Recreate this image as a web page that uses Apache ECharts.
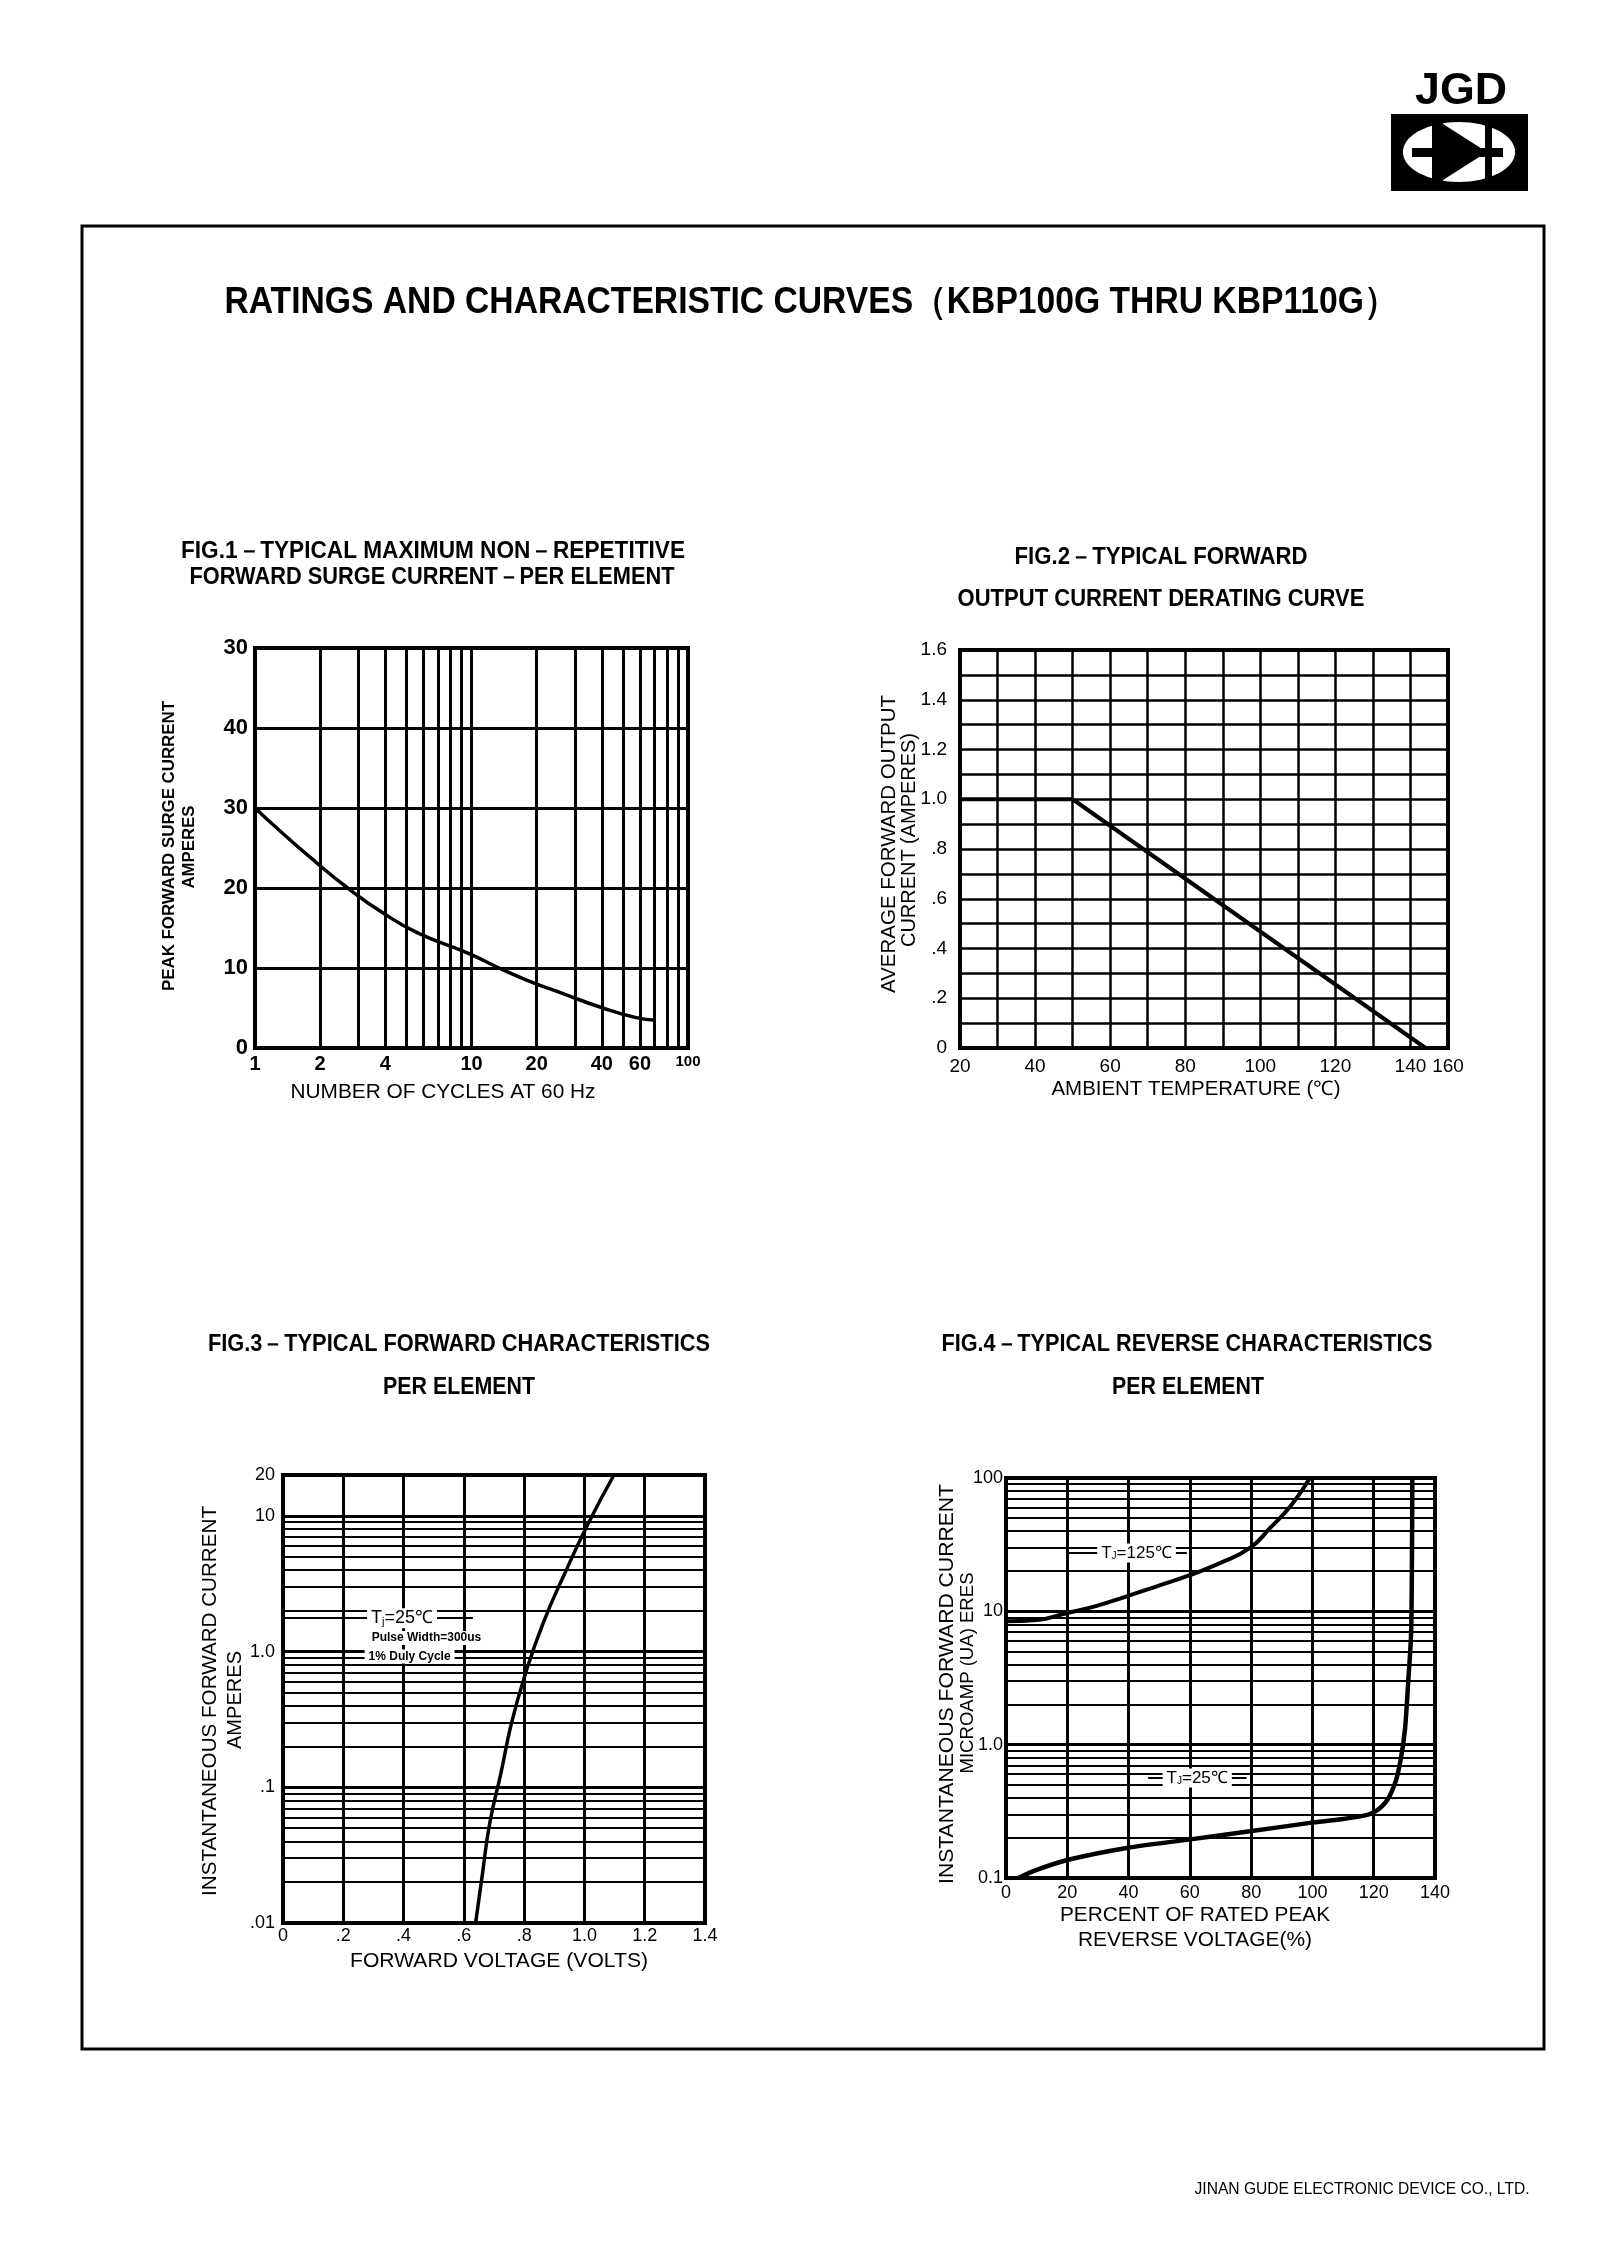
<!DOCTYPE html>
<html>
<head>
<meta charset="utf-8">
<title>KBP100G - KBP110G curves</title>
<script src="https://cdn.jsdelivr.net/npm/echarts@6.0.0/dist/echarts.min.js"></script>
<style>
  html, body { margin: 0; padding: 0; background: #fff; }
  #page { width: 1622px; height: 2260px; }
</style>
</head>
<body>
<div id="page"></div>
<script>
// ---- FIG.1 surge current vs number of cycles ----
const fig1Cycles = [1, 1.26, 1.84, 2.68, 3.89, 5.67, 9.74, 13.4, 18.2, 27.0, 39.5, 57.6, 70.9];
const fig1Amps = [30, 27.5, 23.6, 20.0, 16.9, 14.35, 11.8, 10.0, 8.43, 6.71, 5.09, 3.8, 3.47];
const fig1XTicks = [1, 2, 4, 10, 20, 40, 60, 100];
const fig1XLabels = ['1', '2', '4', '10', '20', '40', '60', '100'];
const fig1XGrid = [2, 3, 4, 5, 6, 7, 8, 9, 10, 20, 30, 40, 50, 60, 70, 80, 90];
const fig1YTicks = [0, 10, 20, 30, 40, 50];
const fig1YLabels = ['0', '10', '20', '30', '40', '30'];

// ---- FIG.2 derating curve ----
const fig2Temp = [20, 50, 144];
const fig2Amps = [1.0, 1.0, 0];
const fig2XTicks = [20, 40, 60, 80, 100, 120, 140, 150];
const fig2XLabels = ['20', '40', '60', '80', '100', '120', '140', '160'];
const fig2YTicks = [0, 0.2, 0.4, 0.6, 0.8, 1.0, 1.2, 1.4, 1.6];
const fig2YLabels = ['0', '.2', '.4', '.6', '.8', '1.0', '1.2', '1.4', '1.6'];

// ---- FIG.3 forward characteristics ----
const fig3Volts = [0.639, 0.662, 0.686, 0.723, 0.758, 0.805, 0.863, 0.935, 1.013, 1.098];
const fig3Amps = [0.01, 0.0234, 0.0546, 0.127, 0.297, 0.694, 1.62, 3.78, 8.81, 20];
const fig3XTicks = [0, 0.2, 0.4, 0.6, 0.8, 1.0, 1.2, 1.4];
const fig3XLabels = ['0', '.2', '.4', '.6', '.8', '1.0', '1.2', '1.4'];
const fig3YTicks = [0.01, 0.1, 1, 10, 20];
const fig3YLabels = ['.01', '.1', '1.0', '10', '20'];
const fig3YGrid = [0.02, 0.03, 0.04, 0.05, 0.06, 0.07, 0.08, 0.09, 0.1, 0.2, 0.3, 0.4, 0.5, 0.6, 0.7, 0.8, 0.9,
  1, 2, 3, 4, 5, 6, 7, 8, 9, 10];
const fig3YMajor = [0.1, 1, 10];

// ---- FIG.4 reverse characteristics ----
const fig4Pct125 = [0, 10, 20, 29.6, 39.4, 49.2, 59.5, 69.8, 79.6, 86.2, 93.2, 99.2];
const fig4Ua125 = [8.41, 8.6, 9.72, 11.0, 12.96, 15.4, 18.5, 23.0, 29.9, 42.2, 63.1, 100];
const fig4Pct25 = [4, 10, 20.3, 39.4, 59.5, 79.6, 99.2, 118.2, 123.7, 127, 128.8, 130.2, 131.3, 132.2, 132.5, 132.6];
const fig4Ua25 = [0.1, 0.115, 0.137, 0.168, 0.194, 0.224, 0.259, 0.299, 0.365, 0.516, 0.772, 1.30, 3.07, 6.88, 30, 100];
const fig4YTicks = [0.1, 1, 10, 100];
const fig4YLabels = ['0.1', '1.0', '10', '100'];
const fig4YGrid = [0.2, 0.3, 0.4, 0.5, 0.6, 0.7, 0.8, 0.9, 1, 2, 3, 4, 5, 6, 7, 8, 9,
  10, 20, 30, 40, 50, 60, 70, 80, 90];
const fig4YMajor = [1, 10];

const INK = '#000';
const FONT = '"Liberation Sans", Arial, Helvetica, sans-serif';

const chart = echarts.init(document.getElementById('page'), null, { width: 1622, height: 2260 });

const pairs = (xs, ys) => xs.map((x, i) => [x, ys[i]]);
const lookup = (ticks, labels) => v => {
  const i = ticks.findIndex(t => Math.abs(t - v) <= 1e-6 * Math.max(1, Math.abs(t)));
  return i < 0 ? '' : labels[i];
};

// text squeezed/stretched to the width it takes in the scan
const measureCtx = document.createElement('canvas').getContext('2d');
function fitText(text, cx, cy, size, weight, width, vertical) {
  const font = `${weight} ${size}px ${FONT}`;
  measureCtx.font = font;
  const w = measureCtx.measureText(text).width;
  return {
    type: 'text', x: cx, y: cy, rotation: vertical ? Math.PI / 2 : 0, scaleX: width / w,
    style: { text, font, fill: INK, align: 'center', verticalAlign: 'middle', textAlign: 'center', textVerticalAlign: 'middle' }
  };
}

function axisLabel(size, weight, margin, extra) {
  return Object.assign({ color: INK, fontFamily: FONT, fontSize: size, fontWeight: weight, margin, showMinLabel: true, showMaxLabel: true }, extra);
}
function axis(gridIndex, extra) {
  return Object.assign({
    gridIndex,
    axisLine: { show: false },
    axisTick: { show: false },
    splitLine: { show: false }
  }, extra);
}
const split = w => ({ show: true, lineStyle: { color: INK, width: w } });

function gridLines(xi, key, values, majors, wMinor, wMajor) {
  return {
    type: 'line', xAxisIndex: xi, yAxisIndex: xi, data: [], silent: true,
    markLine: {
      silent: true, symbol: 'none', z: 1, precision: 6,
      label: { show: false },
      lineStyle: { color: INK, type: 'solid', width: wMinor },
      data: values.map(v => ({ [key]: v, lineStyle: { color: INK, type: 'solid', width: majors.includes(v) ? wMajor : wMinor } }))
    }
  };
}

const noteRich = size => ({
  t: { fontFamily: FONT, fontSize: size, color: INK },
  s: { fontFamily: FONT, fontSize: Math.round(size * 0.6), color: INK, verticalAlign: 'bottom' }
});
function note(coord, formatter, size, weight) {
  return {
    coord,
    label: { formatter, fontSize: size, fontWeight: weight, fontFamily: FONT, rich: noteRich(size) }
  };
}
const markPointBase = {
  symbol: 'rect', symbolSize: 1, z: 7, silent: true,
  itemStyle: { color: 'rgba(0,0,0,0)' },
  label: { show: true, position: 'inside', color: INK, backgroundColor: '#fff', padding: [1, 4] }
};
const leader = segs => ({
  silent: true, symbol: 'none', z: 6, precision: 6, label: { show: false },
  lineStyle: { color: INK, type: 'solid', width: 2 },
  data: segs.map(s => [{ coord: [s[0], s[2]] }, { coord: [s[1], s[2]] }])
});

const option = {
  animation: false,
  backgroundColor: '#fff',
  grid: [
    { left: 255, top: 648, width: 433, height: 400 },
    { left: 960, top: 650, width: 488, height: 398 },
    { left: 283, top: 1475, width: 422, height: 448 },
    { left: 1006, top: 1478, width: 429, height: 400 }
  ].map(g => Object.assign({ show: true, borderColor: INK, borderWidth: 4, backgroundColor: 'transparent' }, g)),
  xAxis: [
    axis(0, {
      type: 'log', logBase: 10, min: 1, max: 100,
      axisLabel: axisLabel(20, 'bold', 6, {
        customValues: fig1XTicks,
        formatter: v => { const s = lookup(fig1XTicks, fig1XLabels)(v); return s === '100' ? '{s|100}' : s; },
        rich: { s: { fontFamily: FONT, fontSize: 15, fontWeight: 'bold', color: INK } }
      })
    }),
    axis(1, {
      type: 'value', min: 20, max: 150, interval: 10, splitLine: split(2.5),
      axisLabel: axisLabel(19, 'normal', 9, { customValues: fig2XTicks, formatter: lookup(fig2XTicks, fig2XLabels) })
    }),
    axis(2, {
      type: 'value', min: 0, max: 1.4, interval: 0.2, splitLine: split(3),
      axisLabel: axisLabel(18, 'normal', 4, { formatter: lookup(fig3XTicks, fig3XLabels) })
    }),
    axis(3, {
      type: 'value', min: 0, max: 140, interval: 20, splitLine: split(3),
      axisLabel: axisLabel(18, 'normal', 6)
    })
  ],
  yAxis: [
    axis(0, {
      type: 'value', min: 0, max: 50, interval: 10, splitLine: split(3),
      axisLabel: axisLabel(22, 'bold', 7, { formatter: lookup(fig1YTicks, fig1YLabels) })
    }),
    axis(1, {
      type: 'value', min: 0, max: 1.6, interval: 0.1, splitLine: split(2.5),
      axisLabel: axisLabel(19, 'normal', 13, { customValues: fig2YTicks, formatter: lookup(fig2YTicks, fig2YLabels) })
    }),
    axis(2, {
      type: 'log', logBase: 10, min: 0.01, max: 20,
      axisLabel: axisLabel(18, 'normal', 8, { customValues: fig3YTicks, formatter: lookup(fig3YTicks, fig3YLabels) })
    }),
    axis(3, {
      type: 'log', logBase: 10, min: 0.1, max: 100,
      axisLabel: axisLabel(18, 'normal', 3, { customValues: fig4YTicks, formatter: lookup(fig4YTicks, fig4YLabels) })
    })
  ],
  series: [
    gridLines(0, 'xAxis', fig1XGrid, [10], 3, 3),
    {
      type: 'line', xAxisIndex: 0, yAxisIndex: 0, z: 5, smooth: true, symbol: 'none',
      lineStyle: { color: INK, width: 3.5 },
      data: pairs(fig1Cycles, fig1Amps)
    },
    {
      type: 'line', xAxisIndex: 1, yAxisIndex: 1, z: 5, symbol: 'none',
      lineStyle: { color: INK, width: 4 },
      data: pairs(fig2Temp, fig2Amps)
    },
    gridLines(2, 'yAxis', fig3YGrid, fig3YMajor, 2, 3),
    {
      type: 'line', xAxisIndex: 2, yAxisIndex: 2, z: 5, smooth: true, symbol: 'none',
      lineStyle: { color: INK, width: 3.5 },
      data: pairs(fig3Volts, fig3Amps),
      markLine: leader([[0, 0.63, 1.76]]),
      markPoint: Object.assign({}, markPointBase, {
        data: [
          note([0.395, 1.76], '{t|T}{s|j}{t|=25℃}', 18, 'normal'),
          note([0.476, 1.26], 'Pulse Width=300us', 12, 'bold'),
          note([0.42, 0.92], '1% Duly Cycle', 12, 'bold')
        ]
      })
    },
    gridLines(3, 'yAxis', fig4YGrid, fig4YMajor, 2, 3),
    {
      type: 'line', xAxisIndex: 3, yAxisIndex: 3, z: 5, smooth: true, symbol: 'none',
      lineStyle: { color: INK, width: 4 },
      data: pairs(fig4Pct125, fig4Ua125),
      markLine: leader([[20, 59, 27.4], [46.4, 78.5, 0.562]]),
      markPoint: Object.assign({}, markPointBase, {
        data: [
          note([42.6, 27.4], '{t|T}{s|J}{t|=125℃}', 17, 'normal'),
          note([62.4, 0.562], '{t|T}{s|J}{t|=25℃}', 17, 'normal')
        ]
      })
    },
    {
      type: 'line', xAxisIndex: 3, yAxisIndex: 3, z: 5, smooth: 0.3, symbol: 'none',
      lineStyle: { color: INK, width: 4.5 },
      data: pairs(fig4Pct25, fig4Ua25)
    }
  ],
  graphic: [
    // page frame
    { type: 'rect', shape: { x: 82, y: 226, width: 1462, height: 1823 }, style: { fill: 'none', stroke: INK, lineWidth: 3 } },
    // logo
    fitText('JGD', 1461, 92, 45, 'bold', 92, false),
    { type: 'rect', shape: { x: 1391, y: 114, width: 137, height: 77 }, style: { fill: INK } },
    { type: 'circle', x: 1459, y: 152, scaleX: 1.87, shape: { cx: 0, cy: 0, r: 30 }, style: { fill: '#fff' } },
    { type: 'rect', shape: { x: 1412, y: 148, width: 91, height: 9 }, style: { fill: INK } },
    { type: 'rect', shape: { x: 1432, y: 121, width: 11, height: 62 }, style: { fill: INK } },
    { type: 'polygon', shape: { points: [[1443, 124], [1443, 180], [1487, 152]] }, style: { fill: INK } },
    { type: 'rect', shape: { x: 1485, y: 121, width: 7, height: 62 }, style: { fill: INK } },
    // page title
    fitText('RATINGS AND CHARACTERISTIC CURVES（KBP100G THRU KBP110G）', 811, 303, 37, 'bold', 1173, false),
    // figure titles
    fitText('FIG.1－TYPICAL MAXIMUM NON－REPETITIVE', 433, 552, 23, 'bold', 504, false),
    fitText('FORWARD SURGE CURRENT－PER ELEMENT', 432, 578, 23, 'bold', 485, false),
    fitText('FIG.2－TYPICAL FORWARD', 1161, 558, 23, 'bold', 293, false),
    fitText('OUTPUT CURRENT DERATING CURVE', 1161, 600, 23, 'bold', 407, false),
    fitText('FIG.3－TYPICAL FORWARD CHARACTERISTICS', 459, 1345, 23, 'bold', 502, false),
    fitText('PER ELEMENT', 459, 1388, 23, 'bold', 152, false),
    fitText('FIG.4－TYPICAL REVERSE CHARACTERISTICS', 1187, 1345, 23, 'bold', 491, false),
    fitText('PER ELEMENT', 1188, 1388, 23, 'bold', 152, false),
    // axis names
    fitText('PEAK FORWARD SURGE CURRENT', 170, 846, 16, 'bold', 290, true),
    fitText('AMPERES', 190, 847, 16, 'bold', 83, true),
    fitText('NUMBER OF CYCLES AT 60 Hz', 443, 1092, 20, 'normal', 305, false),
    fitText('AVERAGE FORWARD OUTPUT', 889, 844, 20, 'normal', 298, true),
    fitText('CURRENT (AMPERES)', 909, 840, 20, 'normal', 214, true),
    fitText('AMBIENT TEMPERATURE (℃)', 1196, 1089, 20, 'normal', 289, false),
    fitText('INSTANTANEOUS FORWARD CURRENT', 210, 1701, 20, 'normal', 390, true),
    fitText('AMPERES', 235, 1700, 20, 'normal', 98, true),
    fitText('FORWARD VOLTAGE (VOLTS)', 499, 1961, 20, 'normal', 298, false),
    fitText('INSTANTANEOUS FORWARD CURRENT', 947, 1684, 20, 'normal', 400, true),
    fitText('MICROAMP (UA) ERES', 968, 1673, 18, 'normal', 201, true),
    fitText('PERCENT OF RATED PEAK', 1195, 1915, 20, 'normal', 270, false),
    fitText('REVERSE VOLTAGE(%)', 1195, 1940, 20, 'normal', 234, false),
    // footer
    fitText('JINAN GUDE ELECTRONIC DEVICE CO., LTD.', 1362, 2190, 16, 'normal', 335, false)
  ]
};

chart.setOption(option);
</script>
</body>
</html>
